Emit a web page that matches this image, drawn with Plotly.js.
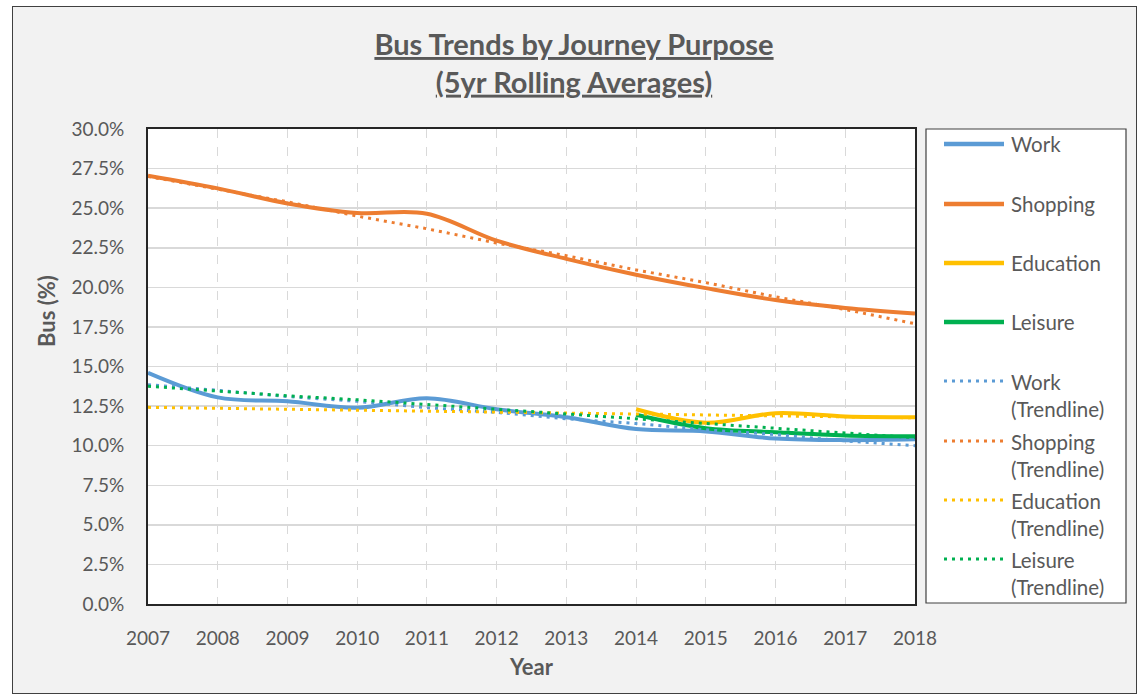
<!DOCTYPE html>
<html><head><meta charset="utf-8">
<script src="https://cdn.plot.ly/plotly-3.0.1.min.js"></script>
<style>
html,body{margin:0;padding:0;background:#ffffff;}
#frame{position:absolute;left:12px;top:6px;width:1123px;height:686px;border:1px solid #404040;background:#F2F2F2;}
#chart{width:1123px;height:686px;}
</style></head><body>
<div id="frame"><div id="chart"></div></div>
<script>
// ---- data ----
const years = [2007,2008,2009,2010,2011,2012,2013,2014,2015,2016,2017,2018];
const lateYears = [2014,2015,2016,2017,2018];
const work      = [14.6,13.05,12.8,12.4,13.0,12.3,11.8,11.05,10.9,10.45,10.35,10.4];
const shopping  = [27.05,26.25,25.3,24.7,24.65,22.95,21.8,20.8,19.95,19.2,18.7,18.35];
const education = [12.3,11.45,12.05,11.85,11.8];
const leisure   = [11.95,11.1,10.85,10.65,10.6];
const workTrend      = [13.85,13.5,13.1,12.8,12.4,12.1,11.7,11.4,11.0,10.7,10.3,10.0];
const shoppingTrend  = [27.0,26.2,25.4,24.5,23.7,22.8,22.0,21.1,20.3,19.4,18.6,17.7];
const educationTrend = [12.42,12.36,12.3,12.24,12.18,12.12,12.06,12.0,11.94,11.88,11.82,11.76];
const leisureTrend   = [13.75,13.45,13.15,12.9,12.6,12.3,12.0,11.7,11.4,11.1,10.8,10.5];
const seriesNames = ['Work','Shopping','Education','Leisure'];
const trendNames  = ['Work<br>(Trendline)','Shopping<br>(Trendline)','Education<br>(Trendline)','Leisure<br>(Trendline)'];
const titleLine1 = 'Bus Trends by Journey Purpose';
const titleLine2 = '(5yr Rolling Averages)';
const xTitle = 'Year';
const yTitle = 'Bus (%)';

// ---- styling ----
const colors = ['#5B9BD5','#ED7D31','#FFC000','#00B050'];
const textColor = '#595959';
const FONT = 'Lato, "Open Sans", sans-serif';

const solidX = [years, years, lateYears, lateYears];
const solidY = [work, shopping, education, leisure];
const trendY = [workTrend, shoppingTrend, educationTrend, leisureTrend];

const traces = [];
for (let i = 0; i < 4; i++) {
  traces.push({x: solidX[i], y: solidY[i], type: 'scatter', mode: 'lines', name: seriesNames[i],
    line: {color: colors[i], width: 4, shape: 'spline', smoothing: 1}, hoverinfo: 'skip'});
}
for (let i = 0; i < 4; i++) {
  traces.push({x: years, y: trendY[i], type: 'scatter', mode: 'lines', name: trendNames[i],
    line: {color: colors[i], width: 3, dash: '3px,5px'}, hoverinfo: 'skip'});
}

// pixel helpers (absolute window px -> paper coords); plot area 148..915 x 129..604
const px = a => (a - 148) / 767;
const py = a => (604 - a) / 475;

const shapes = [{type: 'rect', xref: 'paper', yref: 'paper', x0: px(926), x1: px(1126), y0: py(603), y1: py(129),
  fillcolor: '#FFFFFF', line: {color: '#404040', width: 1.2}}];
const annotations = [];
const itemY = [144, 204, 263, 322, 395, 455, 514, 573];
const allNames = seriesNames.concat(trendNames);
for (let i = 0; i < 8; i++) {
  const lineY = i < 4 ? itemY[i] : itemY[i] - 14;
  shapes.push({type: 'line', xref: 'paper', yref: 'paper', x0: px(944), x1: px(1004), y0: py(lineY), y1: py(lineY),
    line: {color: colors[i % 4], width: i < 4 ? 4.5 : 3, dash: i < 4 ? 'solid' : '3px,5px'}});
  annotations.push({xref: 'paper', yref: 'paper', x: px(1009), y: py(itemY[i]), xanchor: 'left', yanchor: 'middle',
    text: allNames[i], showarrow: false, align: 'left', font: {family: FONT, size: 20.5, color: textColor}});
}
annotations.push({xref: 'paper', yref: 'paper', x: px(46), y: py(311), xanchor: 'center', yanchor: 'middle',
  text: '<b>' + yTitle + '</b>', textangle: -90, showarrow: false, font: {family: FONT, size: 22, color: textColor}});

const layout = {
  width: 1123, height: 686,
  margin: {l: 135, r: 221, t: 122, b: 89, pad: 0},
  paper_bgcolor: '#F2F2F2', plot_bgcolor: '#FFFFFF',
  showlegend: false,
  font: {family: FONT, color: textColor, size: 19},
  title: {text: '<b><u>' + titleLine1 + '</u></b><br><b><u>' + titleLine2 + '</u></b>', x: 561/1123, xanchor: 'center', xref: 'container',
    y: 1 - 48/686, yref: 'container', yanchor: 'middle',
    font: {family: FONT, size: 29, color: textColor}},
  xaxis: {range: [2007, 2018], tickmode: 'array', tickvals: years, ticktext: years.map(String),
    showgrid: true, gridcolor: '#D9D9D9', gridwidth: 1, griddash: 'dash',
    showline: true, linecolor: '#262626', linewidth: 2, mirror: true, zeroline: false,
    ticks: '', ticklabelstandoff: 16, tickfont: {family: FONT, size: 19, color: textColor},
    title: {text: '<b>' + xTitle + '</b>', standoff: 12, font: {family: FONT, size: 22, color: textColor}}},
  yaxis: {range: [0, 30], dtick: 2.5, tick0: 0, tickformat: '.1f', ticksuffix: '%',
    showgrid: true, gridcolor: '#D9D9D9', gridwidth: 1.5,
    showline: true, linecolor: '#262626', linewidth: 2, mirror: true, zeroline: false,
    ticks: '', ticklabelstandoff: 18, tickfont: {family: FONT, size: 19, color: textColor}},
  shapes: shapes,
  annotations: annotations
};

Plotly.newPlot('chart', traces, layout, {staticPlot: true, displayModeBar: false});
</script>
</body></html>
